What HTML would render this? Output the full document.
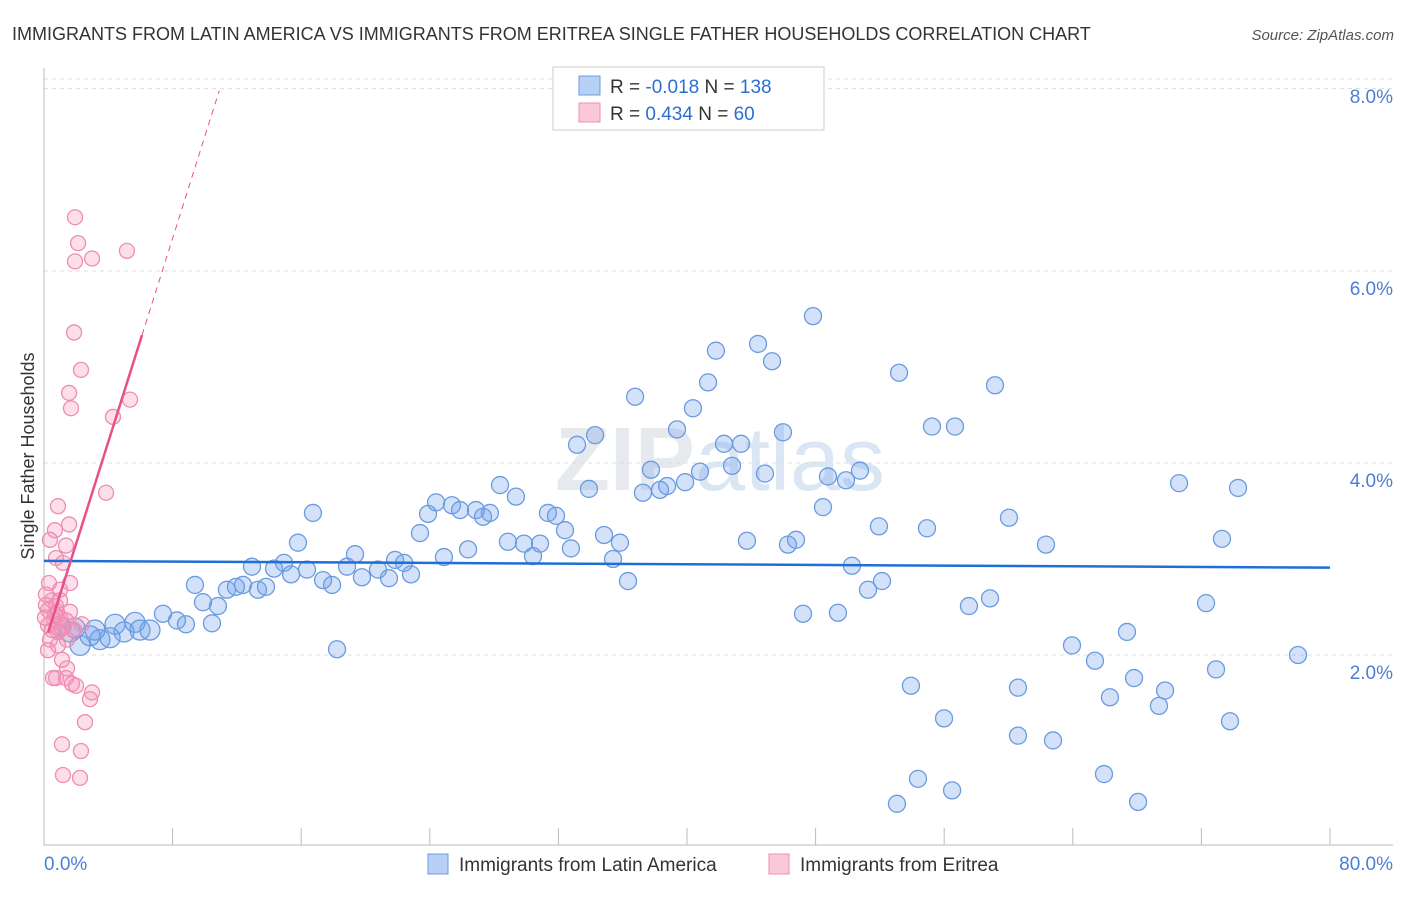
<!DOCTYPE html>
<html><head><meta charset="utf-8"><style>
body{margin:0;background:#fff;font-family:"Liberation Sans",sans-serif;}
svg text{font-family:"Liberation Sans",sans-serif;}
</style></head><body>
<svg id="chart" width="1406" height="892" viewBox="0 0 1406 892">
<text x="12" y="40" font-size="18" fill="#333">IMMIGRANTS FROM LATIN AMERICA VS IMMIGRANTS FROM ERITREA SINGLE FATHER HOUSEHOLDS CORRELATION CHART</text>
<text x="1394" y="40" font-size="15" fill="#555" text-anchor="end" font-style="italic">Source: ZipAtlas.com</text>
<text x="720" y="490" font-size="90" fill="#e6e9ee" text-anchor="middle" font-weight="bold">ZIP<tspan fill="#dbe6f5" font-weight="normal">atlas</tspan></text>
<g id="grid"></g><g id="axes"></g><g id="marks"></g>
<text transform="translate(34,456) rotate(-90)" font-size="18" fill="#333" text-anchor="middle">Single Father Households</text>
<g>
<rect x="553" y="67" width="271" height="63" fill="#fff" stroke="#ccc"/>
<rect x="579" y="76" width="21" height="19" fill="#b8d0f5" stroke="#6a9be0"/>
<text x="610" y="93" font-size="19" fill="#333">R = <tspan fill="#2c6fd1">-0.018</tspan>  N = <tspan fill="#2c6fd1">138</tspan></text>
<rect x="579" y="103" width="21" height="19" fill="#fbc8d8" stroke="#f08cb0"/>
<text x="610" y="120" font-size="19" fill="#333">R =  <tspan fill="#2c6fd1">0.434</tspan>   N =  <tspan fill="#2c6fd1">60</tspan></text>
</g>
<g>
<rect x="428" y="854" width="20" height="20" fill="#b8d0f5" stroke="#6a9be0"/>
<text x="459" y="871" font-size="19" fill="#333">Immigrants from Latin America</text>
<rect x="769" y="854" width="20" height="20" fill="#fbc8d8" stroke="#f08cb0"/>
<text x="800" y="871" font-size="19" fill="#333">Immigrants from Eritrea</text>
</g>
</svg>
<script>
const yTicks=[2,4,6,8];
const yTickLabels=["2.0%","4.0%","6.0%","8.0%"];
const xTickLabels=["0.0%","80.0%"];
const bluePx=[[313,513],[298,543],[355,554],[284,563],[252,567],[274,569],[291,574],[307,570],[323,580],[332,585],[347,567],[362,577],[378,570],[389,578],[395,560],[404,563],[411,574],[195,585],[203,602],[218,606],[227,590],[236,587],[243,585],[258,590],[266,587],[212,623],[186,624],[177,620],[163,614],[150,630],[135,622],[124,632],[115,624],[100,640],[90,636],[80,645],[70,632],[60,626],[337,649],[420,533],[428,514],[436,502],[452,505],[460,510],[476,510],[483,517],[490,513],[444,557],[468,549],[500,485],[508,542],[516,497],[524,544],[533,556],[540,544],[548,513],[556,516],[565,530],[571,548],[577,445],[589,489],[595,435],[604,535],[613,559],[620,543],[628,581],[635,397],[643,493],[651,470],[660,490],[667,486],[677,429],[685,482],[693,408],[700,472],[708,382],[716,351],[724,444],[732,466],[741,444],[747,541],[758,344],[765,474],[772,361],[783,432],[788,545],[796,540],[803,614],[813,316],[823,507],[828,476],[838,613],[846,480],[852,566],[860,471],[868,590],[879,526],[882,581],[899,373],[911,686],[897,804],[918,779],[927,528],[932,427],[944,718],[952,790],[955,427],[969,606],[990,598],[995,385],[1009,518],[1018,688],[1018,736],[1046,545],[1053,740],[1072,645],[1095,661],[1104,774],[1110,697],[1127,632],[1134,678],[1138,802],[1159,706],[1165,691],[1179,483],[1206,603],[1216,669],[1222,539],[1230,721],[1238,488],[1298,655],[110,638],[95,630],[75,628],[140,630]];
const pinkPx=[[75,217],[78,243],[75,261],[92,259],[127,251],[74,332],[81,370],[69,393],[71,408],[130,400],[113,417],[106,493],[58,506],[69,524],[55,530],[66,546],[56,558],[63,563],[49,583],[70,583],[60,590],[52,600],[56,606],[48,610],[60,618],[54,620],[48,625],[64,626],[82,624],[58,632],[50,640],[67,668],[62,660],[56,678],[53,678],[66,678],[72,684],[76,686],[92,692],[90,699],[85,722],[62,744],[81,751],[63,775],[80,778],[50,540],[46,595],[52,630],[57,612],[45,618],[67,640],[74,630],[60,600],[48,650],[55,615],[62,628],[70,612],[46,605],[58,645],[66,620]];
// data values (x %, y %) derived from reading the picture
const blueX=bluePx.map(p=>+((p[0]-44)/16.075).toFixed(2));
const blueY=bluePx.map(p=>+((847-p[1])/96).toFixed(2));
const pinkX=pinkPx.map(p=>+((p[0]-44)/16.075).toFixed(2));
const pinkY=pinkPx.map(p=>+((847-p[1])/96).toFixed(2));
const blueTrend=[2.98,2.91];
const pinkTrend=[2.1,0.53];
const xs=v=>44+v*16.075, ys=v=>847-v*96;
const NS="http://www.w3.org/2000/svg";
function mk(t,a,parent){const e=document.createElementNS(NS,t);for(const k in a)e.setAttribute(k,a[k]);parent.appendChild(e);return e;}
const grid=document.getElementById('grid'),axes=document.getElementById('axes'),marks=document.getElementById('marks');
yTicks.forEach((t,i)=>{
 const l=mk('line',{x1:44,x2:1393,y1:ys(t),y2:ys(t),stroke:'#ddd','stroke-dasharray':'4,4'},grid);
 
 
 const tx=mk('text',{x:1393,y:ys(t)+24,'font-size':19,fill:'#4a7fd6','text-anchor':'end'},axes);
 tx.textContent=yTickLabels[i];
 
 
});
const tl=mk('line',{x1:44,x2:1393,y1:ys(7.9),y2:ys(7.9),stroke:'#ddd','stroke-dasharray':'4,4'},grid);


const ya=mk('line',{x1:44,x2:44,y1:68,y2:845,stroke:'#bbb'},axes);


const xa=mk('line',{x1:44,x2:1393,y1:845,y2:845,stroke:'#bbb'},axes);


for(let i=1;i<=10;i++){const t=mk('line',{x1:xs(i*8),x2:xs(i*8),y1:828,y2:845,stroke:'#bbb'},axes);
 
 }
[[0,'start',44],[80,'end',1393]].forEach((d,i)=>{const t=mk('text',{x:d[2],y:870,'font-size':19,fill:'#4a7fd6','text-anchor':d[1]},axes);t.textContent=xTickLabels[i];
 
 });
blueX.forEach((x,i)=>{const big=i>=134||(bluePx[i][0]<160);const c=mk('circle',{cx:xs(x),cy:ys(blueY[i]),r:big?10:8.5,fill:'rgba(110,160,235,0.3)',stroke:'#6a9be0','stroke-width':1.3},marks);
 
 });
pinkX.forEach((x,i)=>{const c=mk('circle',{cx:xs(x),cy:ys(pinkY[i]),r:7.5,fill:'rgba(245,150,185,0.3)',stroke:'#f08cb0','stroke-width':1.3},marks);
 
 });
const bl=mk('line',{x1:xs(0),y1:ys(blueTrend[0]),x2:xs(80),y2:ys(blueTrend[1]),stroke:'#1f6fd6','stroke-width':2.5},marks);


const pf=v=>pinkTrend[0]+pinkTrend[1]*v;
const pl=mk('line',{x1:xs(0.25),y1:ys(pf(0.25)),x2:xs(6.1),y2:ys(pf(6.1)),stroke:'#e8508a','stroke-width':2.5},marks);


const pd=mk('line',{x1:xs(6.1),y1:ys(pf(6.1)),x2:xs(10.9),y2:ys(pf(10.9)),stroke:'#e8508a','stroke-width':1,'stroke-dasharray':'6,5'},marks);


</script>
</body></html>
